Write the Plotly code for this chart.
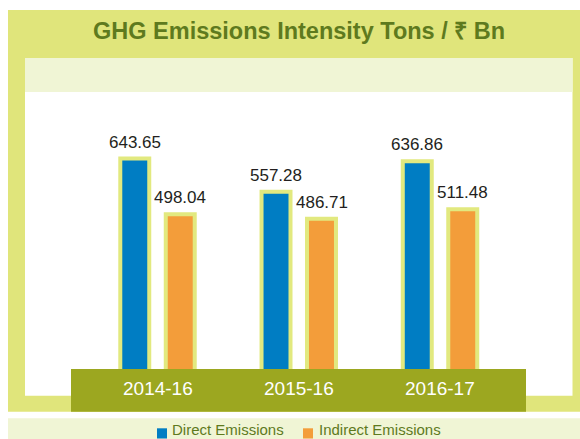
import plotly.graph_objects as go

# ---- data -------------------------------------------------------------
periods = ["2014-16", "2015-16", "2016-17"]
direct = [643.65, 557.28, 636.86]
indirect = [498.04, 486.71, 511.48]
series_names = ["Direct Emissions", "Indirect Emissions"]
title_text = "GHG Emissions Intensity Tons / ₹ Bn"

# ---- styling ----------------------------------------------------------
BLUE = "#007DC3"
ORANGE = "#F39D3A"
BAR_EDGE = "#E2E97F"
FRAME = "#E0E57B"
PALE = "#F0F5D5"
OLIVE = "#9CA720"
TEXT_GREEN = "#5E7A1E"
LABEL_DARK = "#231F20"
FONT = "Liberation Sans, Arial, sans-serif"

W, H = 580, 439
L, R, T, B = 25, 8, 92, 34
plot_w = W - L - R
plot_h = H - T - B
BAR_OFFSET = 22.75          # px from category centre to each bar centre


def fx(px):
    """Pixel column -> paper x."""
    return (px - L) / plot_w


def fy(py):
    """Pixel row -> paper y."""
    return (H - B - py) / plot_h


def bar_trace(name, values, color):
    return go.Bar(
        x=periods,
        y=values,
        name=name,
        marker=dict(color=color, line=dict(color=BAR_EDGE, width=4)),
        showlegend=False,
        hovertemplate="%{x}: %{y:.2f}<extra>" + name + "</extra>",
    )


fig = go.Figure([
    bar_trace(series_names[0], direct, BLUE),
    bar_trace(series_names[1], indirect, ORANGE),
])

shapes = [
    # outer frame + title band
    dict(type="rect", xref="paper", yref="paper", layer="below",
         x0=fx(8), x1=fx(582), y0=fy(10), y1=fy(411.7),
         fillcolor=FRAME, line=dict(width=0)),
    # white chart panel
    dict(type="rect", xref="paper", yref="paper", layer="below",
         x0=fx(25), x1=fx(572.5), y0=fy(58), y1=fy(395.7),
         fillcolor="white", line=dict(width=0)),
    # pale strip under the title
    dict(type="rect", xref="paper", yref="paper", layer="below",
         x0=fx(25), x1=fx(572.5), y0=fy(58), y1=fy(92),
         fillcolor=PALE, line=dict(width=0)),
    # legend strip
    dict(type="rect", xref="paper", yref="paper", layer="below",
         x0=fx(8), x1=fx(582), y0=fy(418.3), y1=fy(441),
         fillcolor=PALE, line=dict(width=0)),
    # olive category band, over the bar bases
    dict(type="rect", xref="paper", yref="paper", layer="above",
         x0=fx(71), x1=fx(526), y0=fy(369), y1=fy(411.7),
         fillcolor=OLIVE, line=dict(width=0)),
]

# legend swatches
swatch_x = [157, 303]
legend_colors = [BLUE, ORANGE]
for sx, col in zip(swatch_x, legend_colors):
    shapes.append(dict(type="rect", xref="paper", yref="paper", layer="above",
                       x0=fx(sx), x1=fx(sx + 10), y0=fy(428.3), y1=fy(438.5),
                       fillcolor=col, line=dict(width=0)))

annotations = [
    dict(text=title_text, xref="paper", yref="paper",
         x=fx(298.5), y=fy(31.3), xanchor="center", yanchor="middle",
         showarrow=False,
         font=dict(family=FONT, size=23.5, color=TEXT_GREEN, weight="bold")),
]

# value labels above each bar
for values, shift in ((direct, -BAR_OFFSET), (indirect, BAR_OFFSET)):
    for p, v in zip(periods, values):
        annotations.append(dict(text=f"{v:.2f}", xref="x", yref="y", x=p, y=v,
                                xshift=shift, yshift=5, xanchor="center",
                                yanchor="bottom", showarrow=False,
                                font=dict(family=FONT, size=17, color=LABEL_DARK)))

# category labels on the olive band
for p in periods:
    annotations.append(dict(text=p, xref="x", yref="paper", x=p, y=fy(388.2),
                            xanchor="center", yanchor="middle", showarrow=False,
                            font=dict(family=FONT, size=19, color="white")))

# legend entries
legend_text_x = [170, 316.5]
for tx, name in zip(legend_text_x, series_names):
    annotations.append(dict(text=name, xref="paper", yref="paper",
                            x=fx(tx), y=fy(429.5), xanchor="left", yanchor="middle",
                            showarrow=False,
                            font=dict(family=FONT, size=15, color=TEXT_GREEN)))

fig.update_layout(
    width=W, height=H,
    margin=dict(l=L, r=R, t=T, b=B, pad=0),
    paper_bgcolor="white",
    plot_bgcolor="rgba(0,0,0,0)",
    barmode="group",
    bargap=0.356,
    bargroupgap=0.363,
    shapes=shapes,
    annotations=annotations,
    xaxis=dict(type="category", range=[-0.9381, 2.9345], showticklabels=False,
               showgrid=False, zeroline=False, showline=False, ticks=""),
    yaxis=dict(range=[0, 817.5], visible=False, showgrid=False, zeroline=False),
    showlegend=False,
)

fig.write_html("out.html")
